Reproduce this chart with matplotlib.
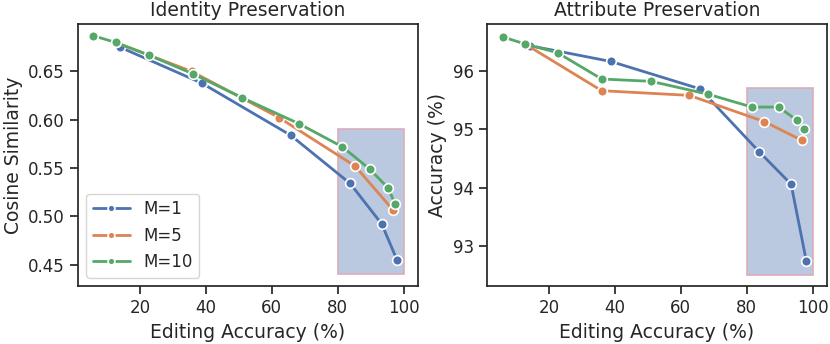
import numpy as np
import matplotlib
matplotlib.use('Agg')
import matplotlib.pyplot as plt
import seaborn as sns
from matplotlib.patches import Rectangle

sns.set_theme(style='ticks')
plt.rcParams.update({
    'xtick.labelsize': 12,
    'ytick.labelsize': 12,
    'axes.labelsize': 13.5,
    'axes.titlesize': 13.5,
    'legend.fontsize': 12,
})

labels = ['M=1', 'M=5', 'M=10']

# Identity preservation (cosine similarity)
id_x_m1 = [14.0, 38.7, 65.7, 83.8, 93.4, 98.0]
id_y_m1 = [0.675, 0.638, 0.584, 0.534, 0.492, 0.455]
id_x_m5 = [12.6, 35.7, 62.3, 85.3, 96.7]
id_y_m5 = [0.680, 0.650, 0.602, 0.552, 0.507]
id_x_m10 = [5.8, 12.6, 22.6, 36.0, 51.0, 68.2, 81.4, 89.7, 95.4, 97.4]
id_y_m10 = [0.687, 0.680, 0.667, 0.6476, 0.6228, 0.596, 0.572, 0.549, 0.529, 0.513]

# Attribute preservation (accuracy %)
at_x_m1 = [14.2, 38.8, 65.9, 83.9, 93.5, 98.1]
at_y_m1 = [96.43, 96.16, 95.69, 94.61, 94.06, 92.75]
at_x_m5 = [12.7, 36.0, 62.6, 85.4, 96.8]
at_y_m5 = [96.46, 95.66, 95.58, 95.13, 94.81]
at_x_m10 = [6.0, 12.7, 22.6, 36.0, 51.0, 68.3, 81.6, 89.7, 95.4, 97.4]
at_y_m10 = [96.58, 96.46, 96.31, 95.86, 95.82, 95.60, 95.38, 95.38, 95.15, 95.00]

colors = sns.color_palette('deep')[:3]

fig, axes = plt.subplots(1, 2, figsize=(8.3, 3.44), dpi=100)
plt.subplots_adjust(left=0.094, right=0.9964, top=0.930, bottom=0.169, wspace=0.203)

def draw(ax, xs, ys, rect):
    for x, y, c, lab in zip(xs, ys, colors, labels):
        ax.plot(x, y, '-o', color=c, label=lab, lw=2, ms=7,
                mec='white', mew=1.2, zorder=3)
    ax.add_patch(Rectangle((rect[0], rect[1]), rect[2] - rect[0], rect[3] - rect[1],
                           facecolor=(0.73, 0.79, 0.88), edgecolor=(0.86, 0.68, 0.73),
                           lw=1.2, zorder=1))
    ax.set_xlabel('Editing Accuracy (%)')
    ax.set_xticks([20, 40, 60, 80, 100])
    ax.set_xlim(1.2, 104.4)

ax = axes[0]
draw(ax, [id_x_m1, id_x_m5, id_x_m10], [id_y_m1, id_y_m5, id_y_m10], (80, 0.44, 100, 0.59))
ax.set_ylim(0.428, 0.699)
ax.set_yticks([0.45, 0.50, 0.55, 0.60, 0.65])
ax.set_ylabel('Cosine Similarity')
ax.set_title('Identity Preservation')
ax.legend(loc='lower left', handlelength=2.2, markerscale=0.7)

ax = axes[1]
draw(ax, [at_x_m1, at_x_m5, at_x_m10], [at_y_m1, at_y_m5, at_y_m10], (80, 92.5, 100, 95.7))
ax.set_ylim(92.32, 96.8)
ax.set_yticks([93, 94, 95, 96])
ax.set_ylabel('Accuracy (%)')
ax.set_title('Attribute Preservation')

plt.savefig('out.png')
